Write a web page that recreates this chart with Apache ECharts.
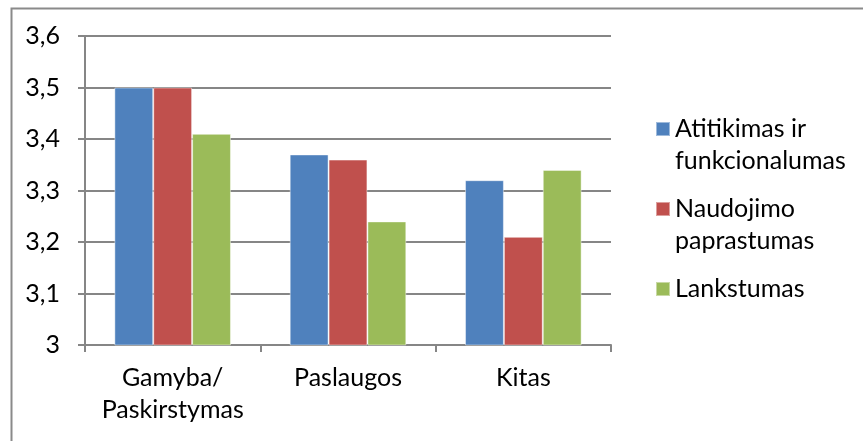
<!DOCTYPE html>
<html>
<head>
<meta charset="utf-8">
<script src="https://cdn.jsdelivr.net/npm/echarts@6/dist/echarts.min.js"></script>
<style>
  html, body { margin: 0; padding: 0; background: #fff; }
  #chart { width: 863px; height: 441px; }
</style>
</head>
<body>
<div id="chart"></div>
<script>
// Sector categories on the x axis
const categories = ['Gamyba/\nPaskirstymas', 'Paslaugos', 'Kitas'];

// Average ratings per criterion
const seriesNames = ['Atitikimas ir funkcionalumas', 'Naudojimo paprastumas', 'Lankstumas'];
const atitikimas = [3.5, 3.37, 3.32];
const naudojimo = [3.5, 3.36, 3.21];
const lankstumas = [3.41, 3.24, 3.34];

// Legend labels: a blank line above and below keeps the swatch level with the first text line
const legendLabels = {
  'Atitikimas ir funkcionalumas': '\nAtitikimas ir\nfunkcionalumas',
  'Naudojimo paprastumas': '\nNaudojimo\npaprastumas',
  'Lankstumas': '\nLankstumas\n'
};

const colors = ['#4F81BD', '#C0504D', '#9BBB59'];
const FONT = 'Lato';
const FS = 25;
const LH = 32;

const chart = echarts.init(document.getElementById('chart'), null, { renderer: 'canvas' });

const barSeries = [atitikimas, naudojimo, lankstumas].map((vals, i) => ({
  name: seriesNames[i],
  type: 'bar',
  data: vals,
  barGap: '0%',
  barCategoryGap: '33.5%',
  itemStyle: { color: colors[i], borderColor: 'rgba(255,255,255,0.45)', borderWidth: 1 },
  emphasis: { disabled: true }
}));

chart.setOption({
  animation: false,
  color: colors,
  textStyle: { fontFamily: FONT },
  graphic: [{
    type: 'rect',
    left: 9, top: 6,
    shape: { width: 900, height: 480 },
    style: { fill: 'none', stroke: '#8a8a8a', lineWidth: 2 },
    silent: true
  }],
  grid: { left: 85, right: 252, top: 36, bottom: 96, containLabel: false },
  legend: {
    orient: 'vertical',
    left: 650,
    top: 76,
    itemWidth: 14,
    itemHeight: 14,
    itemGap: -16,
    icon: 'rect',
    selectedMode: false,
    formatter: name => legendLabels[name],
    textStyle: { fontFamily: FONT, fontSize: FS, color: '#000', lineHeight: LH },
    data: seriesNames
  },
  xAxis: {
    type: 'category',
    data: categories,
    axisLine: { lineStyle: { color: '#868686', width: 2 } },
    axisTick: { show: true, length: 7, alignWithLabel: false, lineStyle: { color: '#868686', width: 2 } },
    axisLabel: { interval: 0, fontFamily: FONT, fontSize: FS, color: '#000', lineHeight: LH, margin: 17 },
    splitLine: { show: false }
  },
  yAxis: {
    type: 'value',
    min: 3,
    max: 3.6,
    interval: 0.1,
    axisLine: { show: true, lineStyle: { color: '#868686', width: 2 } },
    axisTick: { show: true, length: 7, lineStyle: { color: '#868686', width: 2 } },
    axisLabel: {
      fontFamily: FONT, fontSize: FS, color: '#000', margin: 25,
      formatter: v => {
        const s = (Math.round(v * 10) / 10).toString();
        return s.replace('.', ',');
      }
    },
    splitLine: { show: true, lineStyle: { color: '#868686', width: 2 } }
  },
  series: barSeries
});
</script>
</body>
</html>
